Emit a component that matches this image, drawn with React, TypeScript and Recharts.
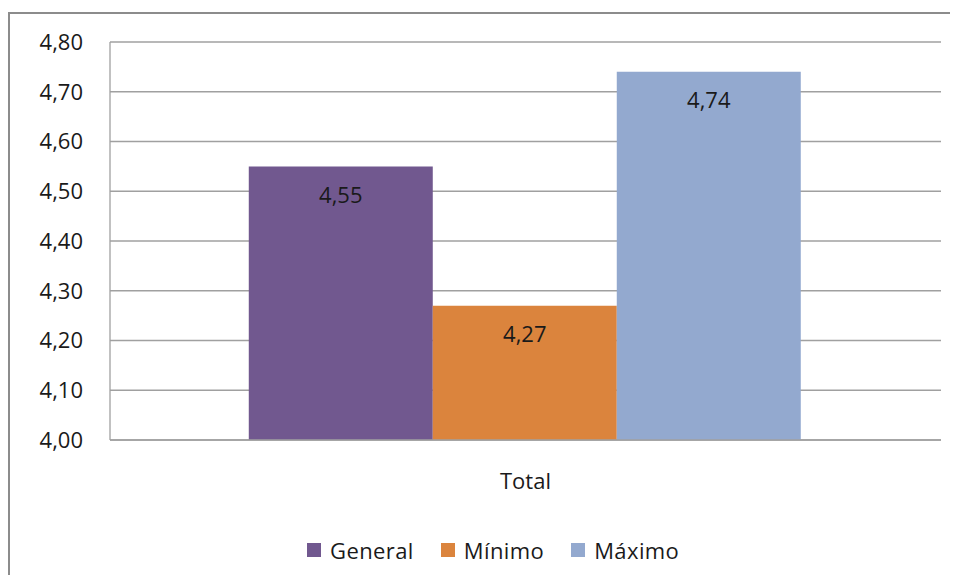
import { Bar, BarChart, CartesianGrid, Legend, LabelList, XAxis, YAxis } from "recharts";

const categories = ["Total"];
const generalValues = [4.55];
const minimoValues = [4.27];
const maximoValues = [4.74];
const yTicks = [4.0, 4.1, 4.2, 4.3, 4.4, 4.5, 4.6, 4.7, 4.8];

const seriesInfo = [
    { key: "general", name: "General", color: "#71588F" },
    { key: "minimo", name: "Mínimo", color: "#DB843D" },
    { key: "maximo", name: "Máximo", color: "#93A9CF" },
];

const data = categories.map((c, i) => ({
    name: c,
    general: generalValues[i],
    minimo: minimoValues[i],
    maximo: maximoValues[i],
}));

const font = "'Open Sans', sans-serif";
const fmt = (v: number) => v.toFixed(2).replace(".", ",");

function LegendContent() {
    return (
        <div style={{ display: "flex", alignItems: "center", paddingLeft: 299, fontFamily: font, fontSize: 22, color: "#1a1a1a", height: 30 }}>
            {seriesInfo.map((s, i) => (
                <div key={s.key} style={{ display: "flex", alignItems: "center", marginRight: i < seriesInfo.length - 1 ? 27 : 0 }}>
                    <span style={{ display: "inline-block", width: 14, height: 14, background: s.color, marginRight: 9 }} />
                    <span style={{ letterSpacing: 0.4 }}>{s.name}</span>
                </div>
            ))}
        </div>
    );
}

export default function App() {
    return (
        <div style={{ position: "relative", width: 942, height: 567 }}>
            <style>{"html,body{overflow:hidden}"}</style>
            {/* frame: only top and left edges are visible in the original crop */}
            <div style={{ position: "absolute", left: 0, top: 4, width: 950, height: 571, borderTop: "2px solid #8c8c8c", borderLeft: "2px solid #8c8c8c", boxSizing: "border-box" }} />
            <div style={{ position: "absolute", left: 0, top: 0 }}>
                <BarChart
                    width={942}
                    height={567}
                    data={data}
                    margin={{ top: 34, right: 9, left: 0, bottom: 45 }}
                    barCategoryGap="16.7%"
                    barGap={0}
                >
                    <CartesianGrid vertical={false} stroke="#a0a0a0" strokeWidth={1.3} />
                    <XAxis
                        dataKey="name"
                        height={60}
                        tickLine={false}
                        tickSize={0}
                        tickMargin={33}
                        axisLine={{ stroke: "#a0a0a0", strokeWidth: 1.3 }}
                        tick={{ fontFamily: font, fontSize: 22, fill: "#1a1a1a" }}
                    />
                    <YAxis
                        width={102}
                        domain={[4, 4.8]}
                        ticks={yTicks}
                        interval={0}
                        tickLine={false}
                        tickSize={0}
                        tickMargin={27}
                        tickFormatter={fmt}
                        axisLine={{ stroke: "#a0a0a0", strokeWidth: 1.3 }}
                        tick={{ fontFamily: font, fontSize: 22, fill: "#1a1a1a" }}
                    />
                    <Legend content={<LegendContent />} wrapperStyle={{ top: 527, left: 0, width: 942 }} />
                    {seriesInfo.map(s => (
                        <Bar key={s.key} dataKey={s.key} name={s.name} fill={s.color} isAnimationActive={false}>
                            <LabelList
                                dataKey={s.key}
                                position="insideTop"
                                offset={21}
                                formatter={(v: any) => fmt(Number(v))}
                                style={{ fontFamily: font, fontSize: 22, fill: "#1a1a1a" }}
                            />
                        </Bar>
                    ))}
                </BarChart>
            </div>
        </div>
    );
}
